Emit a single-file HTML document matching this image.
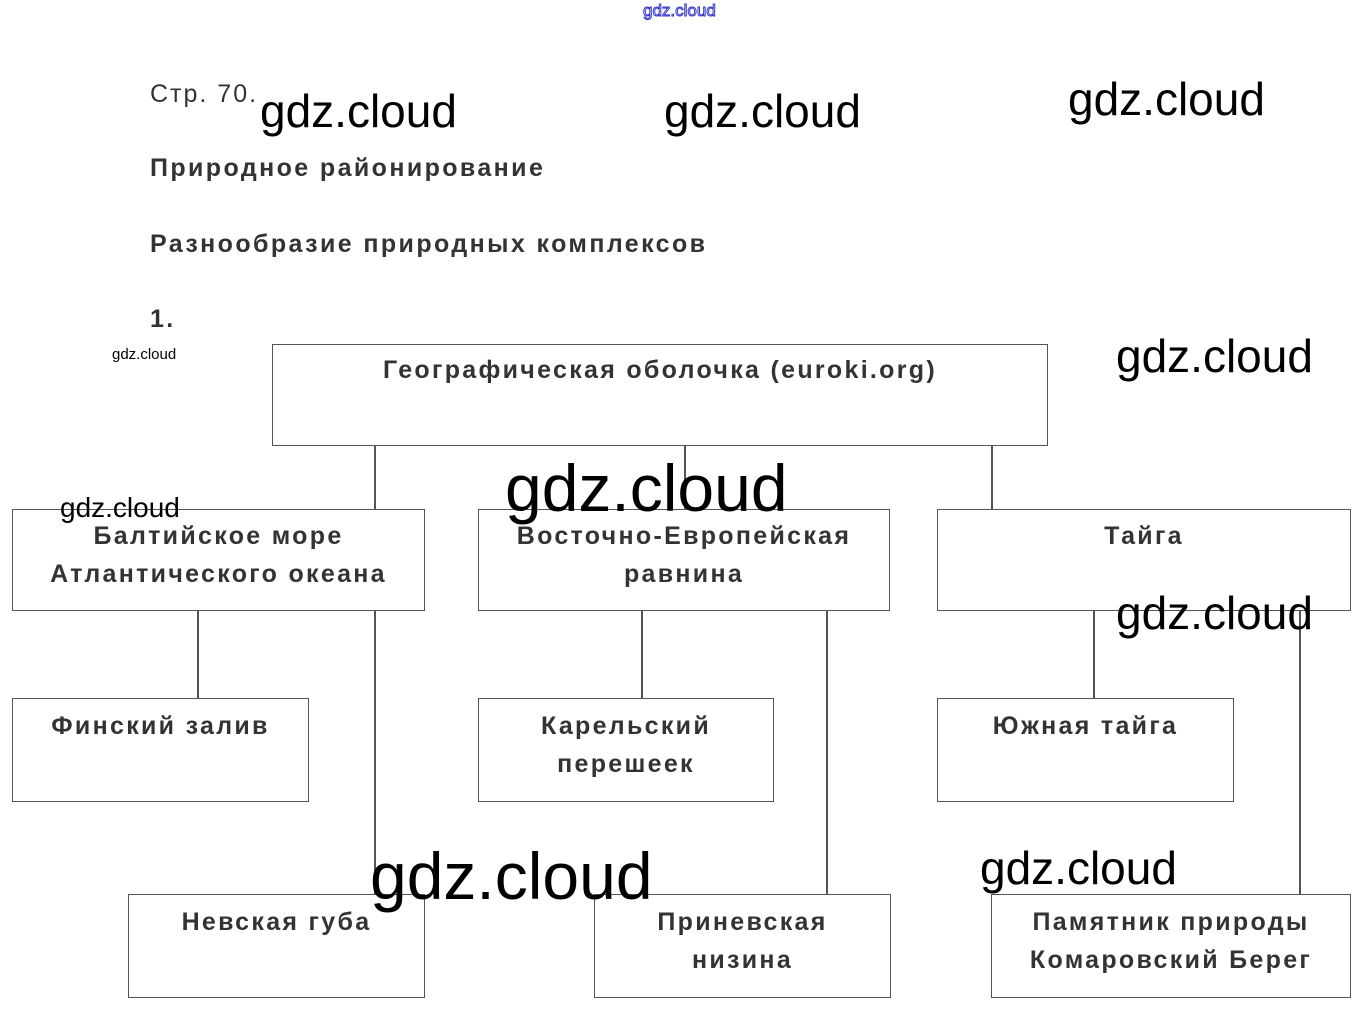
<!DOCTYPE html>
<html><head><meta charset="utf-8"><style>
body{margin:0;width:1363px;height:1025px;background:#fff;position:relative;overflow:hidden;font-family:"Liberation Sans",sans-serif}
.t{position:absolute;color:#333;font-weight:bold;font-size:25px;white-space:nowrap;letter-spacing:2.4px}
.b{position:absolute;border:1.5px solid #555;box-sizing:border-box;text-align:center;color:#333;font-weight:bold;font-size:25px;line-height:38px;padding-top:8px;letter-spacing:2.3px}
.v{position:absolute;width:1.5px;background:#555}
.w{position:absolute;color:#000;font-family:"Liberation Sans",sans-serif;white-space:nowrap;line-height:1}
</style></head><body>
<div class="t" style="left:150px;top:80px;font-size:25px;font-weight:normal;letter-spacing:2px">Стр. 70.</div>
<div class="t" style="left:150px;top:154px">Природное районирование</div>
<div class="t" style="left:150px;top:230px">Разнообразие природных комплексов</div>
<div class="t" style="left:150px;top:305px">1.</div>

<div class="v" style="left:374px;top:445px;height:64px"></div>
<div class="v" style="left:684px;top:445px;height:64px"></div>
<div class="v" style="left:991px;top:445px;height:64px"></div>
<div class="v" style="left:197px;top:610px;height:88px"></div>
<div class="v" style="left:374px;top:610px;height:284px"></div>
<div class="v" style="left:641px;top:610px;height:88px"></div>
<div class="v" style="left:826px;top:610px;height:284px"></div>
<div class="v" style="left:1093px;top:610px;height:88px"></div>
<div class="v" style="left:1299px;top:610px;height:284px"></div>

<div class="b" style="left:272px;top:344px;width:776px;height:102px;padding-top:6px">Географическая оболочка (euroki.org)</div>
<div class="b" style="left:12px;top:509px;width:413px;height:102px;padding-top:7px">Балтийское море<br>Атлантического океана</div>
<div class="b" style="left:478px;top:509px;width:412px;height:102px;padding-top:7px">Восточно-Европейская<br>равнина</div>
<div class="b" style="left:937px;top:509px;width:414px;height:102px;padding-top:7px">Тайга</div>
<div class="b" style="left:12px;top:698px;width:297px;height:104px">Финский залив</div>
<div class="b" style="left:478px;top:698px;width:296px;height:104px">Карельский<br>перешеек</div>
<div class="b" style="left:937px;top:698px;width:297px;height:104px">Южная тайга</div>
<div class="b" style="left:128px;top:894px;width:297px;height:104px">Невская губа</div>
<div class="b" style="left:594px;top:894px;width:297px;height:104px">Приневская<br>низина</div>
<div class="b" style="left:991px;top:894px;width:360px;height:104px">Памятник природы<br>Комаровский Берег</div>

<div class="w" style="left:643px;top:2px;font-size:17px;color:#fff;-webkit-text-stroke:1px #33c">gdz.cloud</div>
<div class="w" style="left:260px;top:88px;font-size:46px">gdz.cloud</div>
<div class="w" style="left:664px;top:88px;font-size:46px">gdz.cloud</div>
<div class="w" style="left:1068px;top:76px;font-size:46px">gdz.cloud</div>
<div class="w" style="left:1116px;top:333px;font-size:46px">gdz.cloud</div>
<div class="w" style="left:112px;top:347px;font-size:15px">gdz.cloud</div>
<div class="w" style="left:60px;top:494px;font-size:28px">gdz.cloud</div>
<div class="w" style="left:505px;top:455px;font-size:66px">gdz.cloud</div>
<div class="w" style="left:1116px;top:590px;font-size:46px">gdz.cloud</div>
<div class="w" style="left:980px;top:845px;font-size:46px">gdz.cloud</div>
<div class="w" style="left:370px;top:843px;font-size:66px">gdz.cloud</div>
</body></html>
